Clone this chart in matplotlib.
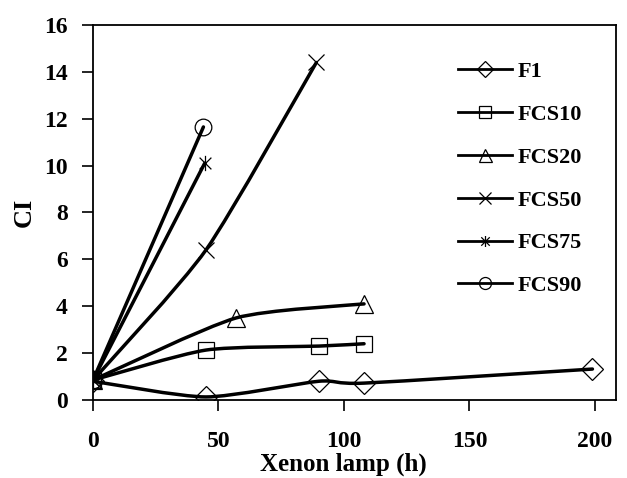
import numpy as np
import matplotlib
matplotlib.use("Agg")
import matplotlib.pyplot as plt
from matplotlib.path import Path
from matplotlib.patches import PathPatch
from matplotlib.lines import Line2D

plt.rcParams['font.family'] = ['Liberation Serif', 'DejaVu Serif']
plt.rcParams['font.weight'] = 'bold'

# Data
labels = ['F1', 'FCS10', 'FCS20', 'FCS50', 'FCS75', 'FCS90']
f1_x = [0, 45, 90, 108, 199]
f1_y = [0.8, 0.13, 0.8, 0.72, 1.32]
fcs10_x = [0, 45, 90, 108]
fcs10_y = [0.85, 2.13, 2.3, 2.4]
fcs20_x = [0, 57, 108]
fcs20_y = [0.85, 3.5, 4.1]
fcs50_x = [0, 45, 89]
fcs50_y = [0.85, 6.4, 14.4]
fcs75_x = [0, 44.5]
fcs75_y = [0.85, 10.1]
fcs90_x = [0, 44]
fcs90_y = [0.85, 11.65]

series = [(f1_x, f1_y), (fcs10_x, fcs10_y), (fcs20_x, fcs20_y),
          (fcs50_x, fcs50_y), (fcs75_x, fcs75_y), (fcs90_x, fcs90_y)]

# asterisk marker (x with a vertical bar)
ast = Path([(-1, -1), (1, 1), (-1, 1), (1, -1), (0, -1.3), (0, 1.3)],
           [Path.MOVETO, Path.LINETO, Path.MOVETO, Path.LINETO, Path.MOVETO, Path.LINETO])
markers = ['D', 's', '^', 'x', ast, 'o']
msizes = [11, 12, 13, 12, 11, 12]


def smooth_path(x, y, k=9.0):
    # gently smoothed line through the points (cubic Bezier segments)
    p = np.column_stack([x, y]).astype(float)
    n = len(p)
    verts = [p[0]]
    codes = [Path.MOVETO]
    for i in range(n - 1):
        p0 = p[i - 1] if i > 0 else p[i]
        p3 = p[i + 2] if i + 2 < n else p[i + 1]
        c1 = p[i] + (p[i + 1] - p0) / k
        c2 = p[i + 1] - (p3 - p[i]) / k
        verts += [c1, c2, p[i + 1]]
        codes += [Path.CURVE4] * 3
    return Path(verts, codes)


fig = plt.figure(figsize=(6.27, 4.78), dpi=100)
ax = fig.add_axes([0.1483, 0.1632, 0.8342, 0.7845])

handles = []
for (x, y), m, ms, lab in zip(series, markers, msizes, labels):
    ax.add_patch(PathPatch(smooth_path(x, y), facecolor='none', edgecolor='black',
                           lw=2.5, capstyle='round', zorder=2))
    ax.plot(x, y, linestyle='none', marker=m, markersize=ms, mfc='none',
            mec='black', mew=0.9, zorder=3)
    handles.append(Line2D([], [], color='black', lw=2, marker=m, markersize=ms * 0.72,
                          mfc='none', mec='black', mew=0.9, label=lab))

ax.set_xlim(0, 208.4)
ax.set_ylim(0, 16)
ax.set_xticks([0, 50, 100, 150, 200])
ax.set_yticks(range(0, 17, 2))
ax.tick_params(direction='out', length=8, width=1.2, labelsize=17)
ax.tick_params(axis='x', pad=14)
ax.tick_params(axis='y', pad=10)
for s in ax.spines.values():
    s.set_linewidth(1.3)

ax.set_xlabel('Xenon lamp (h)', fontsize=18, fontweight='bold')
ax.xaxis.set_label_coords(0.478, -0.14)
ax.set_ylabel('CI', fontsize=19, fontweight='bold')
ax.yaxis.set_label_coords(-0.11, 0.5)

ax.legend(handles=handles, loc='upper left', bbox_to_anchor=(0.68, 0.926),
          frameon=False, fontsize=16, handlelength=2.45, handletextpad=0.27,
          labelspacing=1.0, borderaxespad=0)

fig.savefig('out.png', dpi=100)
